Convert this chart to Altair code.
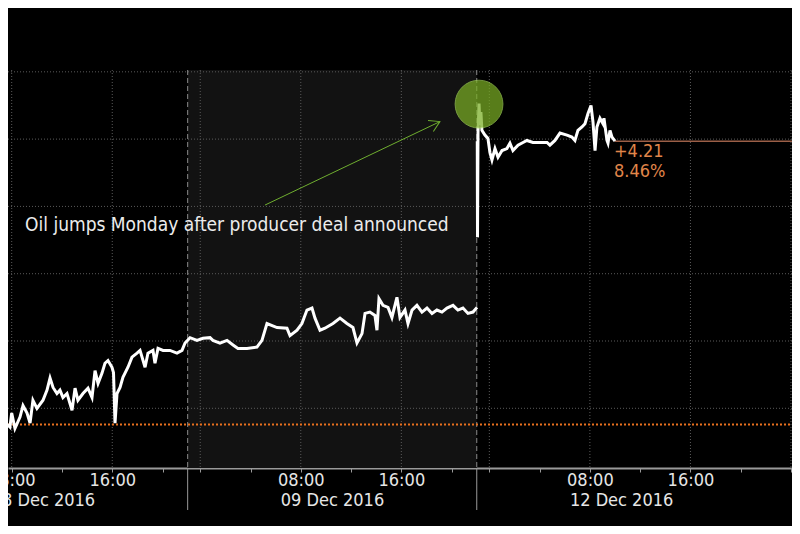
import altair as alt
import pandas as pd

# x = trading-session hours, 0 = 08:00 on 08 Dec 2016 (non-trading hours removed)
# segment A: 08-09 Dec, segment B: 12 Dec
hours_a = [-0.93, -0.53, -0.14, 0.00, 0.26, 0.66, 0.90, 1.22, 1.46, 1.69, 2.01, 2.49, 2.81, 3.05,
           3.29, 3.60, 3.84, 4.08, 4.40, 4.80, 5.04, 5.27, 5.67, 6.07, 6.39, 6.63, 6.87, 7.18,
           7.42, 7.66, 7.98, 8.10, 8.22, 8.38, 8.62, 8.85, 9.25, 9.57, 9.97, 10.21, 10.61, 10.84,
           11.24, 11.40, 11.64, 12.04, 12.59, 13.15, 13.55, 13.79,
           14.19, 14.74, 15.22, 15.78, 16.01, 16.57, 17.13, 17.61, 18.00, 18.72, 19.51, 19.91,
           20.31, 21.11, 21.90, 22.14, 22.70, 23.09, 23.49, 23.89, 24.13, 24.53, 24.92, 25.56,
           26.12, 26.67, 27.15, 27.47, 27.87, 28.11, 28.50, 28.90, 29.06, 29.22, 29.54, 29.94,
           30.25, 30.65, 30.89, 31.29, 31.53, 31.85, 32.24, 32.64, 33.04, 33.44, 33.83, 34.23,
           34.63, 35.11, 35.50, 35.90, 36.30, 36.70, 37.02]
prices_a = [49.82, 49.79, 49.72, 49.93, 49.70, 49.87, 50.04, 49.93, 49.78, 50.12, 50.00, 50.12, 50.27, 50.45,
            50.31, 50.22, 50.27, 50.16, 50.22, 49.97, 50.30, 50.12, 50.22, 50.30, 50.16, 50.56, 50.37, 50.52,
            50.67, 50.71, 50.61, 50.53, 49.78, 50.22, 50.31, 50.46, 50.61, 50.76, 50.82, 50.86, 50.61, 50.82,
            50.86, 50.67, 50.89, 50.86, 50.86, 50.82, 50.86, 50.97,
            51.05, 51.01, 51.04, 51.05, 51.01, 50.97, 51.01, 50.94, 50.89, 50.89, 50.91, 51.01,
            51.26, 51.20, 51.19, 51.08, 51.16, 51.26, 51.46, 51.49, 51.34, 51.16, 51.19, 51.26,
            51.34, 51.26, 51.20, 50.97, 51.11, 51.41, 51.43, 51.38, 51.16, 51.63, 51.53, 51.50,
            51.35, 51.65, 51.35, 51.46, 51.26, 51.46, 51.53, 51.43, 51.49, 51.41, 51.46, 51.43,
            51.49, 51.53, 51.46, 51.49, 51.41, 51.43, 51.50]
hours_b = [37.04, 37.06, 37.10, 37.18, 37.25, 37.33, 37.41, 37.65, 37.89, 38.05, 38.21, 38.45, 38.69,
           39.01, 39.40, 39.64, 39.88, 40.28, 40.68, 40.99, 41.47, 42.03, 42.59, 42.82, 43.22, 43.62,
           44.18, 44.57, 44.81, 45.05, 45.37, 45.61, 45.85, 46.09, 46.25, 46.41, 46.56, 46.80, 47.04,
           47.12, 47.36, 47.44, 47.60, 47.76, 48.00]
prices_b = [53.97, 52.54, 54.09, 54.53, 54.21, 54.40, 54.13, 54.06, 54.01, 53.80, 53.69, 53.86, 53.73,
            53.83, 53.86, 53.94, 53.83, 53.91, 53.95, 53.98, 53.95, 53.95, 53.95, 53.91, 53.98, 54.09,
            54.06, 54.03, 53.98, 54.13, 54.18, 54.23, 54.38, 54.50, 54.25, 53.83, 54.18, 54.31, 54.23,
            54.31, 53.98, 53.94, 54.13, 54.03, 53.97]

prev_close = 49.76
last_price = 53.97
last_hour = 48.00
change_label = "+4.21"
pct_label = "8.46%"

tick_hours = [0, 4, 8, 12, 15, 19, 23, 27, 31, 35, 38, 42, 46, 50, 54, 58, 62]
grid_hours = [0, 8, 15, 23, 31, 38, 46, 54, 62]
day_breaks = [14, 37]
price_grid = [50, 51, 52, 53, 54, 55]
date_hours = [0, 23, 46]
date_labels = ["08 Dec 2016", "09 Dec 2016", "12 Dec 2016"]
time_label_08 = [0, 23, 46]
time_label_16 = [8, 31, 54]

note_text = "Oil jumps Monday after producer deal announced"
note_hour, note_price = 1.06, 52.73
arrow_from = (20.15, 53.02)
arrow_to = (34.07, 54.26)
circle_at = (37.18, 54.52)

W, H = 784, 398
XD = [-0.294, 62.08]
YD = [49.113, 55.027]
FONT = "DejaVu Sans Condensed"

xs = alt.Scale(domain=XD, nice=False, zero=False)
ys = alt.Scale(domain=YD, nice=False, zero=False)

label_expr = (
    "indexof([" + ",".join(str(v) for v in time_label_08) + "], datum.value) >= 0 ? '08:00' : "
    "(indexof([" + ",".join(str(v) for v in time_label_16) + "], datum.value) >= 0 ? '16:00' : '')"
)
x_axis = alt.Axis(
    values=tick_hours, grid=False, domainColor="#9a9a9a", domainWidth=2,
    tickColor="#9a9a9a", tickSize=4, tickWidth=1, labelExpr=label_expr,
    labelFont=FONT, labelFontSize=18, labelColor="#e6e6e6", labelBaseline="middle",
    labelPadding=8, labelOverlap=False, labelFlush=False, title=None)


def X(field):
    return alt.X(field, scale=xs, axis=x_axis)


def Y(field):
    return alt.Y(field, scale=ys, axis=None)


line_df = pd.DataFrame({
    "h": hours_a + hours_b,
    "p": prices_a + prices_b,
    "seg": ["A"] * len(hours_a) + ["B"] * len(hours_b),
    "order": list(range(len(hours_a) + len(hours_b))),
})

shade = alt.Chart(pd.DataFrame({"a": [day_breaks[0]], "b": [day_breaks[1]]})).mark_rect(
    color="#121212").encode(x=X("a:Q"), x2="b:Q", y=alt.value(0), y2=alt.value(H))

hgrid = alt.Chart(pd.DataFrame({"p": price_grid})).mark_rule(
    color="#5a5a5a", strokeDash=[1, 2], strokeWidth=1).encode(
    y=Y("p:Q"), x=alt.value(0), x2=alt.value(W))

vgrid = alt.Chart(pd.DataFrame({"h": grid_hours})).mark_rule(
    color="#5a5a5a", strokeDash=[1, 2], strokeWidth=1).encode(
    x=X("h:Q"), y=alt.value(0), y2=alt.value(H))

seps = alt.Chart(pd.DataFrame({"h": day_breaks})).mark_rule(
    color="#8a8a8a", strokeDash=[5, 3], strokeWidth=1).encode(
    x=X("h:Q"), y=alt.value(0), y2=alt.value(H))
seps_axis = alt.Chart(pd.DataFrame({"h": day_breaks})).mark_rule(
    color="#9a9a9a", strokeWidth=1).encode(
    x=X("h:Q"), y=alt.value(H), y2=alt.value(H + 42))

prev_rule = alt.Chart(pd.DataFrame({"p": [prev_close]})).mark_rule(
    color="#e8701e", strokeDash=[2, 2], strokeWidth=2).encode(
    y=Y("p:Q"), x=alt.value(0), x2=alt.value(W))

last_rule = alt.Chart(pd.DataFrame({"h": [last_hour], "p": [last_price]})).mark_rule(
    color="#9b5f47", strokeWidth=1.5).encode(
    x=X("h:Q"), x2=alt.value(W), y=Y("p:Q"))

line = alt.Chart(line_df).mark_line(color="white", strokeWidth=3, clip=True).encode(
    x=X("h:Q"), y=Y("p:Q"), detail="seg:N", order="order:Q")

circle = alt.Chart(pd.DataFrame({"h": [circle_at[0]], "p": [circle_at[1]]})).mark_point(
    shape="circle", filled=True, size=2290, color="#7aae24", opacity=0.72,
    stroke="#a6d95a", strokeWidth=1, strokeOpacity=0.9).encode(x=X("h:Q"), y=Y("p:Q"))

arrow_df = pd.DataFrame({"h": [arrow_from[0], arrow_to[0]], "p": [arrow_from[1], arrow_to[1]]})
arrow_line = alt.Chart(arrow_df).mark_line(color="#6fae2f", strokeWidth=1).encode(
    x=X("h:Q"), y=Y("p:Q"))
arrow_head = alt.Chart(pd.DataFrame({"h": [arrow_to[0]], "p": [arrow_to[1]]})).mark_point(
    shape="M-1,-0.6L0,0L-1,0.6", filled=False, size=420, angle=334.4,
    color="#6fae2f", strokeWidth=1, opacity=1).encode(x=X("h:Q"), y=Y("p:Q"))

note = alt.Chart(pd.DataFrame({"h": [note_hour], "p": [note_price], "t": [note_text]})).mark_text(
    align="left", baseline="middle", font=FONT, fontSize=19, color="#ececec").encode(
    x=X("h:Q"), y=Y("p:Q"), text="t:N")

chg_df = pd.DataFrame({"h": [last_hour], "p": [last_price], "t1": [change_label], "t2": [pct_label]})
chg1 = alt.Chart(chg_df).mark_text(
    align="left", baseline="middle", font=FONT, fontSize=18, color="#e0864a", dx=-1, dy=11).encode(
    x=X("h:Q"), y=Y("p:Q"), text="t1:N")
chg2 = alt.Chart(chg_df).mark_text(
    align="left", baseline="middle", font=FONT, fontSize=18, color="#e0864a", dx=-1, dy=31).encode(
    x=X("h:Q"), y=Y("p:Q"), text="t2:N")

dates = alt.Chart(pd.DataFrame({"h": date_hours, "t": date_labels})).mark_text(
    align="left", baseline="middle", font=FONT, fontSize=18, color="#e6e6e6", dx=-20).encode(
    x=X("h:Q"), y=alt.value(H + 33), text="t:N")

chart = alt.layer(shade, hgrid, vgrid, seps, seps_axis, prev_rule, last_rule, line,
                  circle, arrow_line, arrow_head, note, chg1, chg2, dates).properties(
    width=W, height=H, background="black",
    padding={"left": 0, "right": 0, "top": 62, "bottom": 58},
    autosize=alt.AutoSizeParams(type="none"),
).configure_view(stroke=None)

chart.save("out.html", embed_options={"renderer": "svg", "actions": False})
